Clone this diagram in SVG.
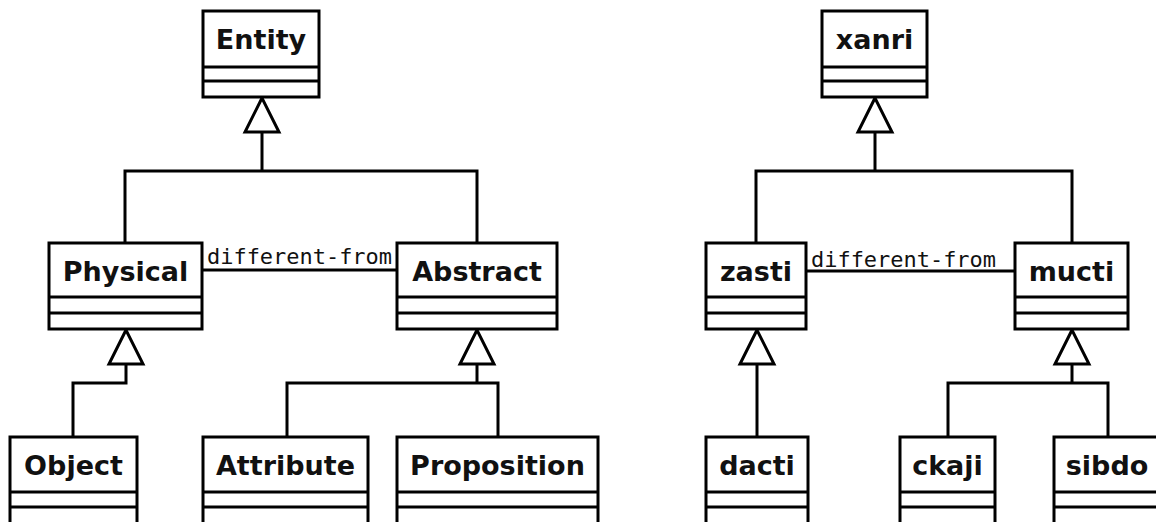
<svg xmlns="http://www.w3.org/2000/svg" width="1156" height="522" viewBox="0 0 1156 522">
<style>
.box{fill:#fff;stroke:#000;stroke-width:3}
.div{stroke:#000;stroke-width:3}
.lbl{font-family:"DejaVu Sans",sans-serif;font-weight:bold;font-size:27px;fill:#111;text-anchor:middle}
.edge{fill:none;stroke:#000;stroke-width:3}
.tri{fill:#fff;stroke:#000;stroke-width:3;stroke-linejoin:miter}
.elbl{font-family:"DejaVu Sans Mono",monospace;font-size:22px;fill:#111}
</style>
<rect width="1156" height="522" fill="#fff"/>
<g id="connectors">
  <!-- left tree -->
  <polyline class="edge" points="125,243 125,171 477,171 477,243"/>
  <line class="edge" x1="262" y1="171" x2="262" y2="132"/>
  <polygon class="tri" points="262,98 245,132 279,132"/>
  <polyline class="edge" points="73,437 73,383 126,383 126,364"/>
  <polygon class="tri" points="126,330 109,364 143,364"/>
  <polyline class="edge" points="287,437 287,383 498,383 498,437"/>
  <line class="edge" x1="477" y1="383" x2="477" y2="364"/>
  <polygon class="tri" points="477,330 460,364 494,364"/>
  <line class="edge" x1="202" y1="270" x2="397" y2="270"/>
  <text class="elbl" x="207" y="264" textLength="185" lengthAdjust="spacingAndGlyphs">different-from</text>
  <!-- right tree -->
  <polyline class="edge" points="756,243 756,171 1072,171 1072,243"/>
  <line class="edge" x1="875" y1="171" x2="875" y2="132"/>
  <polygon class="tri" points="875,98 858,132 892,132"/>
  <line class="edge" x1="757" y1="437" x2="757" y2="364"/>
  <polygon class="tri" points="757,330 740,364 774,364"/>
  <polyline class="edge" points="948,437 948,383 1108,383 1108,437"/>
  <line class="edge" x1="1072" y1="383" x2="1072" y2="364"/>
  <polygon class="tri" points="1072,330 1055,364 1089,364"/>
  <line class="edge" x1="806" y1="271" x2="1015" y2="271"/>
  <text class="elbl" x="811" y="267" textLength="185" lengthAdjust="spacingAndGlyphs">different-from</text>
</g>
<g id="Entity">
  <rect class="box" x="203" y="11" width="116" height="86"/>
  <line class="div" x1="203" y1="67" x2="319" y2="67"/><line class="div" x1="203" y1="81" x2="319" y2="81"/>
  <text class="lbl" x="261" y="49">Entity</text>
</g>
<g id="Physical">
  <rect class="box" x="49" y="243" width="153" height="86"/>
  <line class="div" x1="49" y1="297" x2="202" y2="297"/><line class="div" x1="49" y1="313" x2="202" y2="313"/>
  <text class="lbl" x="125.5" y="281">Physical</text>
</g>
<g id="Abstract">
  <rect class="box" x="397" y="243" width="160" height="86"/>
  <line class="div" x1="397" y1="297" x2="557" y2="297"/><line class="div" x1="397" y1="313" x2="557" y2="313"/>
  <text class="lbl" x="477" y="281">Abstract</text>
</g>
<g id="Object">
  <rect class="box" x="10" y="437" width="127" height="88"/>
  <line class="div" x1="10" y1="492" x2="137" y2="492"/><line class="div" x1="10" y1="507" x2="137" y2="507"/>
  <text class="lbl" x="73.5" y="475">Object</text>
</g>
<g id="Attribute">
  <rect class="box" x="203" y="437" width="165" height="88"/>
  <line class="div" x1="203" y1="492" x2="368" y2="492"/><line class="div" x1="203" y1="507" x2="368" y2="507"/>
  <text class="lbl" x="285.5" y="475">Attribute</text>
</g>
<g id="Proposition">
  <rect class="box" x="397" y="437" width="201" height="88"/>
  <line class="div" x1="397" y1="492" x2="598" y2="492"/><line class="div" x1="397" y1="507" x2="598" y2="507"/>
  <text class="lbl" x="497.5" y="475">Proposition</text>
</g>
<g id="xanri">
  <rect class="box" x="822" y="11" width="105" height="86"/>
  <line class="div" x1="822" y1="67" x2="927" y2="67"/><line class="div" x1="822" y1="81" x2="927" y2="81"/>
  <text class="lbl" x="874.5" y="49">xanri</text>
</g>
<g id="zasti">
  <rect class="box" x="706" y="243" width="100" height="86"/>
  <line class="div" x1="706" y1="297" x2="806" y2="297"/><line class="div" x1="706" y1="313" x2="806" y2="313"/>
  <text class="lbl" x="756" y="281">zasti</text>
</g>
<g id="mucti">
  <rect class="box" x="1015" y="243" width="113" height="86"/>
  <line class="div" x1="1015" y1="297" x2="1128" y2="297"/><line class="div" x1="1015" y1="313" x2="1128" y2="313"/>
  <text class="lbl" x="1071.5" y="281">mucti</text>
</g>
<g id="dacti">
  <rect class="box" x="706" y="437" width="102" height="88"/>
  <line class="div" x1="706" y1="492" x2="808" y2="492"/><line class="div" x1="706" y1="507" x2="808" y2="507"/>
  <text class="lbl" x="757" y="475">dacti</text>
</g>
<g id="ckaji">
  <rect class="box" x="900" y="437" width="95" height="88"/>
  <line class="div" x1="900" y1="492" x2="995" y2="492"/><line class="div" x1="900" y1="507" x2="995" y2="507"/>
  <text class="lbl" x="947.5" y="475">ckaji</text>
</g>
<g id="sibdo">
  <rect class="box" x="1054" y="437" width="106" height="88"/>
  <line class="div" x1="1054" y1="492" x2="1160" y2="492"/><line class="div" x1="1054" y1="507" x2="1160" y2="507"/>
  <text class="lbl" x="1107" y="475">sibdo</text>
</g>
</svg>
